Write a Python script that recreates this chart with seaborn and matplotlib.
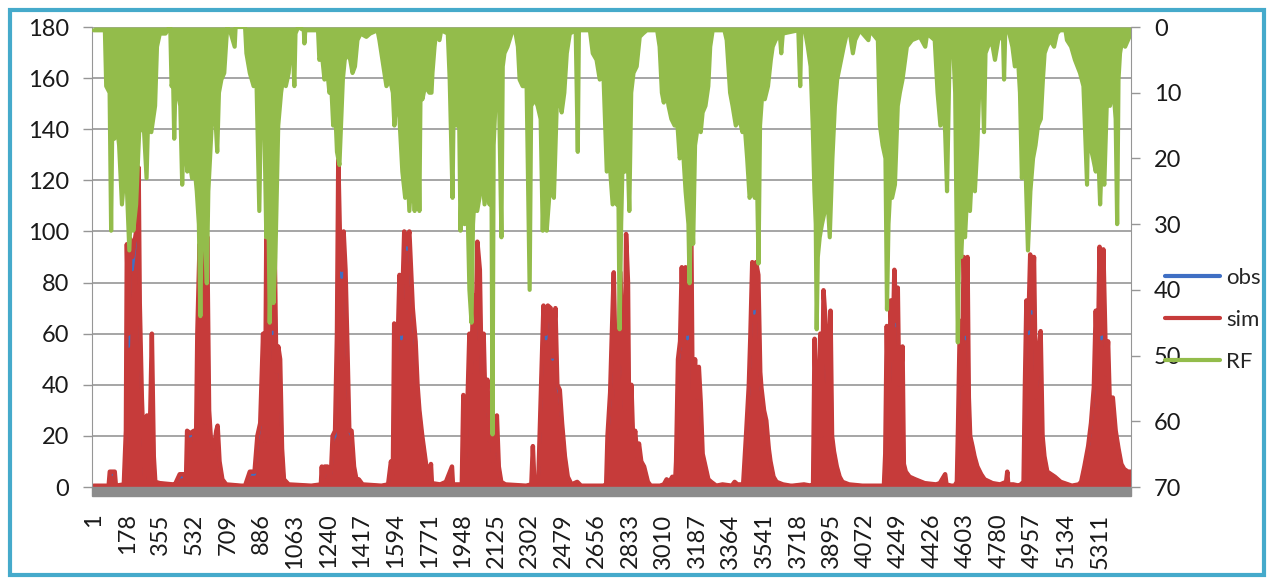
import matplotlib
matplotlib.use("Agg")
import matplotlib.pyplot as plt
import seaborn as sns
import pandas as pd
from matplotlib.patches import Rectangle
from matplotlib.lines import Line2D

sns.set_style("white")
plt.rcParams['font.family'] = ['Lato', 'DejaVu Sans']

# --- data (day number, value) ---
# simulated / observed discharge, one line per year
sim_day = [
    1, 80, 86, 112, 118, 160, 171, 176, 185, 195, 205, 225, 238, 244, 255, 262, 270, 282, 290, 300, 308, 318, 326, 350, 420,
    430, 455, 480, 488, 494, 510, 530, 540, 548, 560, 570, 580, 590, 600, 610, 620, 635, 648, 655, 665, 680, 700, 780,
    800, 825, 850, 865, 880, 895, 905, 912, 925, 935, 945, 955, 965, 975, 985, 995, 1005, 1030, 1150,
    1200, 1205, 1210, 1220, 1235, 1245, 1255, 1262, 1275, 1285, 1292, 1300, 1310, 1320, 1330, 1340, 1350, 1362, 1375, 1390, 1400, 1420, 1520,
    1555, 1570, 1580, 1587, 1595, 1605, 1615, 1625, 1640, 1655, 1667, 1685, 1700, 1710, 1720, 1735, 1755, 1765, 1775,
    1781, 1786, 1830, 1860, 1892, 1897, 1944, 1952, 1957, 1969, 1984, 1994, 2004, 2014, 2026, 2039, 2049, 2059, 2069, 2079, 2089, 2099, 2109, 2119, 2129, 2139, 2152, 2174,
    2283, 2311, 2319, 2327, 2348, 2361, 2368, 2375, 2388, 2398, 2413, 2423, 2438, 2448, 2461, 2473, 2488, 2503, 2523, 2553, 2573,
    2691, 2706, 2713, 2727, 2736, 2746, 2756, 2766, 2781, 2791, 2803, 2811, 2821, 2829, 2839, 2849, 2859, 2869, 2879, 2891, 2906, 2926, 2941,
    2990, 3010, 3025, 3040, 3055, 3070, 3075, 3085, 3096, 3105, 3115, 3125, 3135, 3145, 3155, 3162, 3175, 3185, 3195, 3205, 3215, 3230, 3245, 3260, 3287, 3320,
    3369, 3384, 3399, 3429, 3444, 3459, 3467, 3477, 3487, 3497, 3509, 3519, 3525, 3539, 3551, 3564, 3573, 3589, 3605, 3639, 3679,
    3690, 3750, 3788, 3798, 3806, 3814, 3820, 3828, 3836, 3844, 3853, 3868, 3878, 3890, 3898, 3908, 3923, 3938, 3953, 3988, 4058,
    4172, 4179, 4187, 4197, 4207, 4217, 4227, 4237, 4245, 4252, 4262, 4270, 4277, 4287, 4307, 4337, 4387, 4447, 4467, 4487, 4495, 4502, 4527,
    4545, 4557, 4563, 4573, 4583, 4593, 4603, 4613, 4620, 4627, 4639, 4650, 4665, 4685, 4703, 4745, 4785, 4817, 4823, 4828, 4855, 4885,
    4894, 4909, 4916, 4924, 4934, 4944, 4954, 4964, 4974, 4984, 4999, 5009, 5019, 5034, 5054, 5074, 5105, 5144, 5164,
    5200, 5213, 5230, 5250, 5265, 5280, 5290, 5300, 5310, 5320, 5330, 5345, 5355, 5365, 5380, 5395, 5410, 5425, 5440, 5460, 5475,
]
sim_val = [
    0.5, 0.5, 6, 6, 0.5, 1, 22, 95, 60, 97, 90, 100, 125, 72, 35, 20, 3, 28, 10, 30, 60, 12, 2, 1.5, 1,
    1, 5, 5, 2, 22, 21, 22, 10, 60, 95, 40, 100, 25, 98, 30, 18, 15, 22, 24, 10, 3, 1, 0.5,
    0.5, 6, 6, 20, 25, 60, 18, 97, 20, 100, 62, 100, 45, 55, 50, 15, 3, 1, 0.5,
    1, 8, 1, 8, 8, 2, 8, 20, 22, 60, 128, 100, 85, 100, 85, 55, 22, 22, 8, 2, 3, 1, 0.5,
    1, 10, 5, 64, 8, 55, 83, 60, 100, 95, 100, 70, 57, 40, 30, 20, 9, 5, 3,
    9, 1.5, 1, 2, 8, 1, 1, 36, 2, 20, 60, 45, 75, 50, 96, 85, 40, 60, 30, 42, 18, 22, 10, 20, 28, 8, 2, 1,
    0.5, 1, 16, 1, 3, 36, 55, 71, 60, 71, 70, 51, 70, 40, 38, 25, 12, 4, 1, 2, 0.5,
    0.5, 1, 20, 37, 60, 84, 45, 23, 84, 60, 30, 99, 80, 8, 40, 16, 22, 12, 17, 10, 8, 2, 0.5,
    0.5, 1, 3, 2, 4, 2, 10, 50, 57, 86, 55, 86, 60, 88, 102, 35, 50, 35, 47, 33, 13, 8, 3, 2, 0.5, 1,
    0.5, 2, 1, 1, 20, 40, 59, 88, 70, 88, 83, 45, 39, 30, 26, 15, 10, 4, 2, 1, 0.5,
    0.5, 1, 0.5, 1, 58, 30, 20, 40, 60, 20, 77, 60, 30, 69, 20, 14, 8, 4, 2, 1, 0.5,
    0.5, 13, 63, 20, 73, 50, 85, 65, 78, 40, 42, 55, 9, 6, 4, 3, 1.5, 1, 1.5, 4, 5, 1, 0.5,
    0.5, 2, 23, 65, 40, 90, 60, 90, 35, 20, 16, 12, 8, 5, 3, 1.5, 1, 2, 6, 1, 1, 0.5,
    1, 2, 39, 73, 62, 91, 70, 90, 35, 50, 61, 20, 12, 6, 5, 4, 2, 1, 0.5,
    1, 2, 8, 16, 25, 39, 69, 45, 94, 60, 93, 44, 57, 30, 35, 22, 15, 9, 7, 6, 6,
]
obs_val = [
    0.5, 0.5, 5, 5, 0.5, 1, 20, 90, 55, 95, 85, 98, 118, 70, 33, 20, 3, 25, 10, 28, 58, 12, 2, 1.5, 1,
    1, 4, 4, 2, 20, 20, 21, 10, 55, 92, 40, 97, 25, 95, 30, 18, 15, 20, 22, 10, 3, 1, 0.5,
    0.5, 5, 5, 18, 24, 58, 18, 95, 20, 98, 60, 97, 45, 52, 48, 15, 3, 1, 0.5,
    1, 7, 1, 7, 7, 2, 7, 18, 20, 58, 120, 98, 82, 98, 82, 52, 22, 20, 8, 2, 3, 1, 0.5,
    1, 9, 5, 60, 8, 52, 80, 58, 98, 93, 97, 68, 55, 40, 30, 20, 9, 5, 3,
    8, 1.5, 1, 2, 7, 1, 1, 33, 2, 20, 58, 45, 72, 50, 93, 82, 40, 58, 30, 40, 18, 22, 10, 20, 26, 8, 2, 1,
    0.5, 1, 15, 1, 3, 34, 53, 68, 58, 69, 68, 50, 68, 40, 36, 25, 12, 4, 1, 2, 0.5,
    0.5, 1, 18, 35, 58, 80, 45, 23, 82, 58, 30, 96, 78, 8, 38, 16, 20, 12, 16, 10, 8, 2, 0.5,
    0.5, 1, 3, 2, 4, 2, 9, 48, 55, 83, 55, 84, 58, 86, 98, 35, 48, 35, 45, 32, 13, 8, 3, 2, 0.5, 1,
    0.5, 2, 1, 1, 18, 38, 57, 85, 68, 86, 80, 45, 38, 30, 25, 15, 10, 4, 2, 1, 0.5,
    0.5, 1, 0.5, 1, 55, 30, 20, 38, 58, 20, 74, 58, 30, 66, 20, 14, 8, 4, 2, 1, 0.5,
    0.5, 12, 60, 20, 70, 50, 82, 63, 76, 40, 42, 53, 9, 6, 4, 3, 1.5, 1, 1.5, 4, 5, 1, 0.5,
    0.5, 2, 21, 62, 40, 87, 58, 88, 35, 20, 16, 12, 8, 5, 3, 1.5, 1, 2, 6, 1, 1, 0.5,
    1, 2, 37, 70, 60, 88, 68, 88, 35, 48, 59, 20, 12, 6, 5, 4, 2, 1, 0.5,
    1, 2, 8, 15, 24, 37, 66, 45, 91, 58, 90, 44, 55, 30, 34, 22, 15, 9, 7, 6, 6,
]

# rainfall (right axis, inverted)
rf_pts = [
    (1, 0.5), (60, 0.5), (67, 9), (85, 10), (93, 31), (100, 12), (110, 17), (120, 14), (135, 18), (150, 27), (170, 20),
    (189, 34), (200, 25), (210, 31), (225, 27), (241, 16), (265, 15), (280, 23), (290, 12), (305, 16), (325, 12),
    (335, 3), (350, 1), (380, 1), (400, 0),
    (405, 0), (412, 9), (420, 8), (426, 17), (432, 9), (445, 10), (458, 12), (468, 24), (478, 14), (495, 22), (505, 20),
    (520, 23), (532, 21), (545, 25), (556, 30), (564, 44), (572, 28), (585, 30), (598, 39), (606, 25), (615, 20),
    (627, 13), (640, 12), (653, 19), (662, 10), (675, 8), (690, 7), (701, 2), (706, 0), (725, 1), (745, 3), (750, 0),
    (800, 0), (807, 4), (825, 7), (845, 9), (860, 8), (875, 28), (885, 10), (900, 12), (912, 32), (920, 20), (930, 45),
    (940, 30), (950, 42), (960, 35), (975, 15), (990, 10), (1000, 8), (1015, 9), (1030, 7), (1040, 3), (1050, 2),
    (1060, 9), (1066, 1), (1080, 0),
    (1110, 0.5), (1113, 2.5), (1118, 0.5), (1185, 0.5), (1192, 5), (1205, 4), (1219, 8), (1232, 6), (1245, 10),
    (1255, 9), (1265, 15), (1275, 12), (1285, 19), (1298, 21), (1308, 14), (1316, 8), (1326, 5), (1340, 4), (1355, 5),
    (1367, 7), (1380, 6), (1393, 2), (1410, 1), (1440, 1.5), (1460, 1), (1499, 0.5),
    (1509, 2), (1525, 5), (1546, 9), (1565, 8), (1580, 10), (1588, 15), (1599, 10), (1615, 14), (1630, 22), (1645, 26),
    (1655, 20), (1667, 28), (1680, 22), (1695, 28), (1704, 24), (1712, 12), (1720, 28), (1726, 10), (1736, 11),
    (1750, 9), (1773, 10), (1784, 10), (1789, 7), (1800, 3), (1810, 0.5),
    (1826, 2), (1835, 0.5), (1870, 1), (1880, 8), (1895, 26), (1902, 9), (1916, 15), (1930, 14), (1937, 31), (1947, 18),
    (1958, 30), (1966, 22), (1974, 27), (1984, 40), (1995, 45), (2003, 30), (2011, 26), (2025, 28), (2037, 26),
    (2050, 22), (2064, 27), (2078, 24), (2090, 27), (2100, 20), (2106, 62), (2112, 18), (2127, 8), (2140, 10),
    (2153, 32), (2160, 6), (2169, 4), (2185, 3), (2196, 2), (2212, 0.5),
    (2225, 0.5), (2240, 3), (2249, 8), (2265, 9), (2286, 9), (2302, 40), (2310, 12), (2330, 11), (2344, 12), (2360, 14),
    (2371, 31), (2380, 20), (2392, 31), (2405, 26), (2418, 24), (2430, 26), (2445, 12), (2460, 11), (2471, 13),
    (2485, 10), (2498, 4), (2514, 1), (2545, 0.5), (2556, 19), (2562, 0.5), (2600, 0.5),
    (2620, 0.5), (2635, 4), (2655, 5), (2672, 8), (2690, 6), (2709, 22), (2725, 21), (2740, 27), (2752, 22), (2761, 27),
    (2770, 24), (2777, 46), (2785, 30), (2793, 20), (2805, 22), (2819, 19), (2828, 28), (2838, 10), (2850, 7),
    (2867, 6), (2883, 1.5), (2900, 1), (2920, 0.5),
    (2975, 0.5), (2988, 3), (3000, 10), (3010, 11.5), (3020, 9), (3035, 12), (3050, 14), (3067, 15), (3080, 14),
    (3094, 20), (3110, 18), (3125, 25), (3140, 30), (3146, 39), (3155, 25), (3165, 33), (3175, 18), (3190, 15),
    (3205, 16), (3215, 13), (3230, 12), (3245, 9), (3255, 3), (3268, 0.5),
    (3330, 0.5), (3342, 2), (3360, 10), (3373, 12), (3390, 15), (3410, 14), (3425, 16), (3437, 15), (3450, 20),
    (3463, 26), (3480, 24), (3490, 26), (3500, 20), (3510, 36), (3518, 15), (3530, 10), (3543, 11), (3560, 9),
    (3575, 5), (3585, 3), (3600, 2), (3622, 1), (3630, 4), (3638, 1), (3720, 0.5), (3730, 9), (3736, 0.5),
    (3755, 0.5), (3770, 3), (3785, 6), (3796, 15), (3805, 25), (3812, 30), (3817, 46), (3823, 35), (3833, 32),
    (3845, 30), (3860, 28), (3872, 25), (3886, 32), (3900, 20), (3913, 12), (3925, 8), (3939, 6), (3960, 3),
    (3976, 1), (3990, 0.5),
    (4008, 4), (4020, 2), (4045, 0.5), (4090, 2), (4098, 0.5), (4140, 2), (4151, 15), (4165, 18), (4180, 20), (4188, 43),
    (4196, 30), (4203, 26), (4215, 26), (4230, 24), (4245, 12), (4256, 10), (4270, 8), (4293, 3), (4320, 2),
    (4362, 1.5), (4390, 3), (4400, 1), (4440, 2), (4455, 10), (4470, 15), (4485, 12), (4495, 16), (4505, 25),
    (4512, 14), (4520, 2),
    (4536, 2), (4548, 10), (4562, 48), (4570, 30), (4580, 35), (4590, 28), (4600, 32), (4612, 25), (4626, 28),
    (4640, 20), (4652, 25), (4665, 18), (4679, 6), (4690, 5), (4700, 16), (4708, 4), (4721, 3), (4740, 2), (4758, 5),
    (4775, 2), (4800, 1), (4806, 8), (4812, 1), (4830, 0.5),
    (4850, 3), (4863, 6), (4878, 4), (4890, 10), (4900, 23), (4910, 18), (4920, 22), (4932, 34), (4945, 25), (4959, 20),
    (4972, 18), (4985, 15), (5000, 14), (5011, 8), (5020, 4), (5032, 3), (5050, 2), (5070, 3), (5085, 1), (5100, 0.5),
    (5130, 0.5), (5138, 2), (5160, 3), (5180, 5), (5207, 7), (5225, 9), (5244, 24), (5252, 10), (5260, 18), (5276, 20),
    (5290, 22), (5302, 18), (5313, 27), (5322, 20), (5335, 24), (5350, 10), (5365, 12), (5382, 9), (5395, 14),
    (5403, 30), (5410, 8), (5418, 4), (5430, 2), (5445, 3), (5460, 2), (5475, 1),
]

xtick_labels = [1, 178, 355, 532, 709, 886, 1063, 1240, 1417, 1594, 1771, 1948, 2125, 2302, 2479, 2656,
                2833, 3010, 3187, 3364, 3541, 3718, 3895, 4072, 4249, 4426, 4603, 4780, 4957, 5134, 5311]

assert len(sim_day) == len(sim_val) == len(obs_val)

q = pd.DataFrame({"day": sim_day, "sim": sim_val, "obs": obs_val})
rf = pd.DataFrame(rf_pts, columns=["day", "rf"])

BLUE = "#3F6FC4"
RED = "#C63B3A"
GREEN = "#93BC4B"
GRID = "#969696"
W, H = 1268, 578

fig = plt.figure(figsize=(W / 100, H / 100), dpi=100)
ax = fig.add_axes([92 / W, 91 / H, (1131 - 92) / W, 460 / H])

# discharge on left axis (daily series is so dense the peaks read as solid)
sns.lineplot(data=q, x="day", y="obs", ax=ax, color=BLUE, lw=2.2, estimator=None)
ax.fill_between(q["day"], 0, q["sim"], color=RED, lw=0)
sns.lineplot(data=q, x="day", y="sim", ax=ax, color=RED, lw=3.2, estimator=None)
ax.set_xlim(-8, 5476)
ax.set_ylim(0, 180)
ax.set_yticks(range(0, 181, 20))
ax.set_xticks(xtick_labels)
ax.set_xticklabels([str(v) for v in xtick_labels], rotation=90)
ax.grid(axis="y", color=GRID, lw=1.2)
ax.set_axisbelow(True)
ax.set_xlabel("")
ax.set_ylabel("")
for s in ["top", "bottom", "right"]:
    ax.spines[s].set_visible(False)
ax.spines["left"].set_color(GRID)
ax.tick_params(axis="y", length=6.5, width=1, color=GRID, pad=10, labelsize=17, labelcolor="#1a1a1a")
ax.tick_params(axis="x", length=0, pad=19, labelsize=17, labelcolor="#1a1a1a")

# thick grey category axis band under the zero line
ax.add_patch(Rectangle((0, -9 / 460), 1, 9 / 460, transform=ax.transAxes,
                       color="#8c8c8c", clip_on=False, zorder=5))

# rainfall on inverted right axis
ax2 = ax.twinx()
ax2.fill_between(rf["day"], 0, rf["rf"], color=GREEN, lw=0)
sns.lineplot(data=rf, x="day", y="rf", ax=ax2, color=GREEN, lw=3.0, estimator=None)
ax2.set_ylim(70, 0)
ax2.set_xlim(-8, 5476)
ax2.set_yticks(range(0, 71, 10))
ax2.set_ylabel("")
for s in ["top", "bottom", "left"]:
    ax2.spines[s].set_visible(False)
ax2.spines["right"].set_color(GRID)
ax2.tick_params(axis="y", length=6.5, width=1, color=GRID, pad=10, labelsize=17, labelcolor="#1a1a1a")

handles = [Line2D([], [], color=BLUE, lw=3),
           Line2D([], [], color=RED, lw=3),
           Line2D([], [], color=GREEN, lw=3)]
fig.legend(handles, ["obs", "sim", "RF"], loc="center left",
           bbox_to_anchor=(1165 / W, (H - 320) / H), frameon=False, fontsize=16,
           borderpad=0, borderaxespad=0, handlelength=2.48, handletextpad=0.27, labelspacing=0.98)

# outer light-blue frame
fig.add_artist(Rectangle((10 / W, 3 / H), 1254 / W, 565 / H, transform=fig.transFigure,
                         fill=False, ec="#45AACB", lw=3))

fig.savefig("out.png", dpi=100)
